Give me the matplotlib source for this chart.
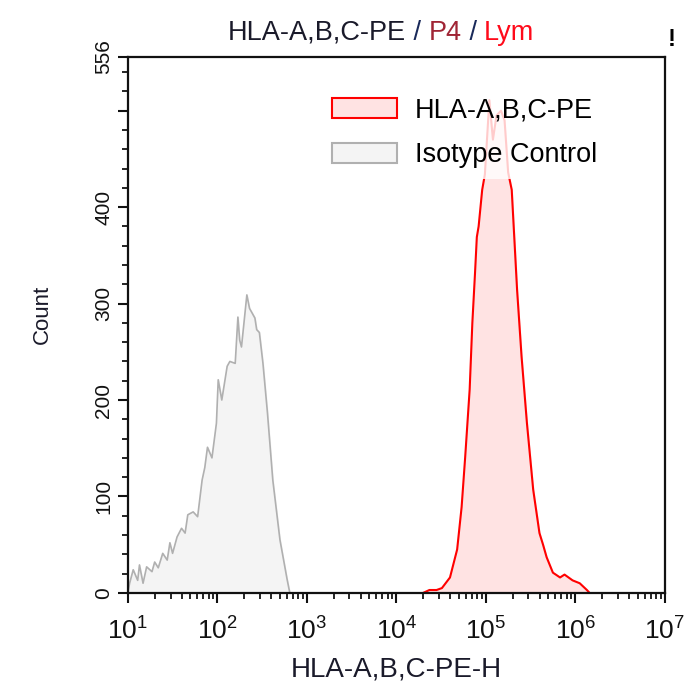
import numpy as np
import matplotlib.pyplot as plt
from matplotlib.patches import Patch
from matplotlib.ticker import FixedLocator, LogLocator, NullFormatter

plt.rcParams['font.family'] = ['Liberation Sans', 'DejaVu Sans']
plt.rcParams['mathtext.fontset'] = 'custom'
plt.rcParams['mathtext.rm'] = 'Liberation Sans'
plt.rcParams['mathtext.default'] = 'regular'

# Isotype control histogram: log10(intensity), count
iso_log = [1.00, 1.02, 1.06, 1.11, 1.13, 1.17, 1.21, 1.27, 1.30, 1.34, 1.39,
           1.44, 1.47, 1.50, 1.55, 1.60, 1.64, 1.67, 1.73, 1.78, 1.83, 1.86,
           1.89, 1.94, 1.99, 2.01, 2.05, 2.11, 2.14, 2.20, 2.23, 2.25, 2.27,
           2.33, 2.36, 2.39, 2.42, 2.44, 2.47, 2.51, 2.56, 2.62, 2.70, 2.78,
           2.81]
iso_count = [0, 10, 24, 13, 29, 10, 27, 22, 32, 26, 41,
             34, 52, 41, 58, 67, 62, 81, 84, 79, 117, 130,
             151, 140, 176, 221, 200, 235, 240, 238, 286, 262, 255,
             309, 295, 290, 285, 273, 270, 238, 187, 117, 55, 14,
             0]

# HLA-A,B,C-PE stained histogram
hla_log = [4.30, 4.37, 4.45, 4.51, 4.60, 4.68, 4.73, 4.77, 4.82, 4.85, 4.88,
           4.90, 4.92, 4.96, 4.99, 5.02, 5.04, 5.08, 5.12, 5.17, 5.21, 5.25,
           5.29, 5.35, 5.40, 5.46, 5.53, 5.60, 5.64, 5.68, 5.75, 5.83, 5.88,
           5.91, 5.97, 6.05, 6.13, 6.16]
hla_count = [0, 3, 3, 5, 16, 45, 89, 141, 211, 280, 332,
             369, 380, 418, 434, 480, 511, 470, 495, 500, 490, 436,
             418, 314, 245, 176, 107, 62, 50, 37, 21, 16, 19,
             17, 13, 10, 3, 0]

y_ticks = [0, 100, 200, 300, 400, 500, 556]
y_labels = ['0', '100', '200', '300', '400', '', '556']
legend_labels = ['HLA-A,B,C-PE', 'Isotype Control']
title_parts = [('HLA-A,B,C-PE', '#1a1a2a'), (' / ', '#1a2a5a'), ('P4', '#a02535'),
               (' / ', '#1a2a5a'), ('Lym', '#ff0a1a')]

fig = plt.figure(figsize=(6.91, 7.0), dpi=100)
ax = fig.add_axes([0.185, 0.153, 0.777, 0.766])

iso_x = 10 ** np.array(iso_log)
hla_x = 10 ** np.array(hla_log)
ax.fill_between(iso_x, iso_count, color='#f4f4f4', zorder=1)
ax.plot(iso_x, iso_count, color='#b0b0b0', lw=1.2, zorder=2)
ax.fill_between(hla_x, hla_count, color='#ffe3e3', zorder=1)
ax.plot(hla_x, hla_count, color='#ff0000', lw=1.5, zorder=2)

ax.set_xscale('log')
ax.set_xlim(10, 1e7)
ax.set_ylim(0, 556)

ax.yaxis.set_major_locator(FixedLocator(y_ticks))
ax.set_yticklabels(y_labels, rotation=90, va='center')
ax.yaxis.set_minor_locator(FixedLocator(np.arange(20, 556, 20)))
ax.xaxis.set_major_locator(LogLocator(base=10, numticks=10))
ax.xaxis.set_minor_locator(LogLocator(base=10, subs=np.arange(2, 10), numticks=20))
ax.xaxis.set_minor_formatter(NullFormatter())

ax.tick_params(which='major', direction='out', length=7, width=1.5, colors='#111111')
ax.tick_params(which='minor', direction='out', length=4, width=1.2)
ax.tick_params(axis='y', labelsize=15)
ax.tick_params(axis='x', labelsize=19, pad=11)
for sp in ax.spines.values():
    sp.set_linewidth(1.6)
    sp.set_color('#111111')

ax.set_xlabel('HLA-A,B,C-PE-H', fontsize=20, color='#1a1a2a', labelpad=8)
ax.set_ylabel('Count', fontsize=16, color='#1a1a2a')
ax.yaxis.set_label_coords(-0.14, 0.52)

handles = [Patch(facecolor='#ffe3e3', edgecolor='#ff0000', lw=1.5),
           Patch(facecolor='#f4f4f4', edgecolor='#b0b0b0', lw=1.5)]
ax.legend(handles, legend_labels, loc='upper left', bbox_to_anchor=(0.335, 0.969),
          frameon=True, facecolor='white', edgecolor='none', framealpha=0.8,
          fancybox=False, handlelength=2.4, handleheight=0.75,
          handletextpad=0.65, labelspacing=0.68, borderpad=0.4, fontsize=19.5)

# multi-coloured title, pieces chained left to right on a common bottom line
t = fig.text(0.330, 0.935, title_parts[0][0], fontsize=19.5,
             color=title_parts[0][1], va='bottom')
for s, c in title_parts[1:]:
    t = ax.annotate(s, xy=(1, 0), xycoords=t, fontsize=19.5, color=c,
                    va='bottom', annotation_clip=False)

fig.text(0.967, 0.934, '!', fontsize=17, fontweight='bold', color='black')

fig.savefig('out.png', dpi=100)
